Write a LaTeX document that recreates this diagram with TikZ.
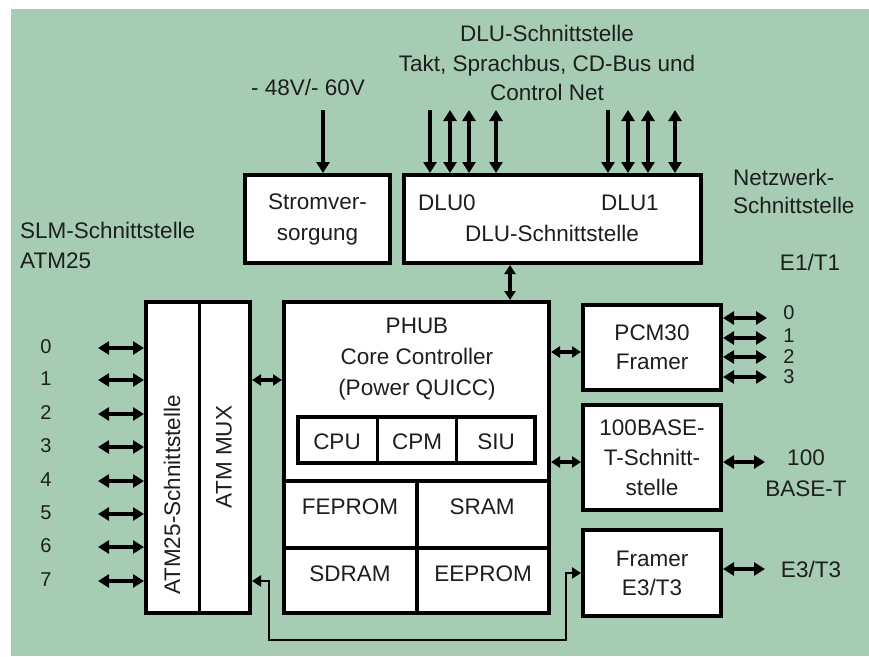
\documentclass[tikz,border=0pt]{standalone}
\usepackage{fontspec}
\setmainfont{Liberation Sans}
\usetikzlibrary{arrows.meta}
\definecolor{bg}{HTML}{A6CDB4}
\definecolor{txt}{HTML}{1E1E1E}
\newcommand\dfont{\fontsize{22.5}{30}\selectfont}
\newcommand\nfont{\fontsize{20}{24}\selectfont}
\newcommand\sfont{\fontsize{20}{20}\selectfont}
\begin{document}
\begin{tikzpicture}[x=1pt,y=-1pt,
  box/.style={draw=black,line width=4pt,fill=white,inner sep=0pt,align=center,text=txt,font=\dfont},
  lbl/.style={inner sep=0pt,align=center,text=txt,font=\dfont},
  num/.style={inner sep=0pt,text=txt,font=\nfont},
  snum/.style={inner sep=0pt,text=txt,font=\sfont},
  tip/.tip={Triangle[length=11pt,width=13pt]},
  stip/.tip={Triangle[length=9pt,width=11pt]},
  arr/.style={line width=3.2pt,-tip},
  barr/.style={line width=3.2pt,tip-tip},
  sbarr/.style={line width=3.2pt,stip-stip},
  conn/.style={line width=2.5pt,stip-stip},
  divi/.style={line width=3pt}]
\useasboundingbox (0,0) rectangle (869,656);
\fill[white] (0,0) rectangle (869,656);
\fill[bg] (11,9) rectangle (869,656);

% top labels
\node[lbl] (volt) at (308,87) {- 48V/- 60V};
\node[lbl,font=\fontsize{22.5}{29.5}\selectfont] (dlutop) at (547,63) {DLU-Schnittstelle\\Takt, Sprachbus, CD-Bus und\\Control Net};
\node[lbl,align=left,anchor=west,font=\fontsize{22.5}{28}\selectfont] (netz) at (733,191) {Netzwerk-\\Schnittstelle};
\node[lbl] (e1t1) at (810,262) {E1/T1};
\node[lbl,align=left,anchor=west] (slm) at (20,245) {SLM-Schnittstelle\\ATM25};

% boxes
\node[box,minimum width=145pt,minimum height=88pt,font=\fontsize{22.5}{31}\selectfont] (strom) at (317.5,219) {Stromver-\\sorgung};
\node[box,minimum width=297pt,minimum height=88pt] (dlu) at (552.5,219) {};
\node[lbl] (dlu0) at (447,203) {DLU0};
\node[lbl] (dlu1) at (630,203) {DLU1};
\node[lbl] (dlus) at (552,233) {DLU-Schnittstelle};

\node[box,minimum width=104pt,minimum height=311pt] (atm) at (198,457.5) {};
\draw[divi] (199,302) -- (199,613);
\node[lbl,rotate=90] (atm25) at (172,495) {ATM25-Schnittstelle};
\node[lbl,rotate=90] (atmmux) at (224,457) {ATM MUX};

\node[box,minimum width=265pt,minimum height=311pt] (phub) at (416.5,457.5) {};
\node[lbl,font=\fontsize{22.5}{31}\selectfont] (phubt) at (417,359) {PHUB\\Core Controller\\(Power QUICC)};
\node[box,minimum width=237pt,minimum height=46pt] (cpubox) at (416.5,440) {};
\draw[divi] (377,417) -- (377,463);
\draw[divi] (456,417) -- (456,463);
\node[lbl] (cpu) at (337,442) {CPU};
\node[lbl] (cpm) at (417,442) {CPM};
\node[lbl] (siu) at (496,442) {SIU};
\draw[line width=4pt] (284,481) -- (549,481);
\draw[line width=4pt] (284,548) -- (549,548);
\draw[line width=4pt] (417,481) -- (417,613);
\node[lbl] (feprom) at (350,507) {FEPROM};
\node[lbl] (sram) at (482,507) {SRAM};
\node[lbl] (sdram) at (350,574) {SDRAM};
\node[lbl] (eeprom) at (483,574) {EEPROM};

\node[box,minimum width=138pt,minimum height=85pt,font=\fontsize{22.5}{29}\selectfont] (pcm) at (652,347.5) {PCM30\\Framer};
\node[box,minimum width=138pt,minimum height=105pt] (base) at (652,457.5) {100BASE-\\T-Schnitt-\\stelle};
\node[box,minimum width=138pt,minimum height=86pt,font=\fontsize{22.5}{29}\selectfont] (fr3) at (652,573) {Framer\\E3/T3};

% right labels
\node[lbl,font=\fontsize{22.5}{31}\selectfont] (b100) at (806,473) {100\\BASE-T};
\node[lbl] (e3t3) at (811,569) {E3/T3};
\node[snum] (q0) at (789,313) {0};
\node[snum] (q1) at (789,336) {1};
\node[snum] (q2) at (789,357) {2};
\node[snum] (q3) at (789,377) {3};

% power and DLU arrows
\coordinate (pw) at (323,110);
\draw[arr] (pw) -- (pw |- strom.north);
\coordinate (d0) at (430,110);
\coordinate (d1) at (450,110);
\coordinate (d2) at (469,110);
\coordinate (d3) at (496,110);
\coordinate (d4) at (608,110);
\coordinate (d5) at (628,110);
\coordinate (d6) at (648,110);
\coordinate (d7) at (675,110);
\draw[arr] (d0) -- (d0 |- dlu.north);
\draw[arr] (d4) -- (d4 |- dlu.north);
\foreach \c in {d1,d2,d3,d5,d6,d7} \draw[barr] (\c) -- (\c |- dlu.north);
\coordinate (dp) at (510,0);
\draw[sbarr] (dp |- dlu.south) -- (dp |- phub.north);

% left arrows and numbers
\foreach \i/\yy in {0/348,1/380,2/414,3/447,4/481,5/514,6/547,7/581}{
  \coordinate (l\i) at (98,\yy);
  \node[num] (n\i) at (46,\yy-1) {\i};
  \draw[barr] (l\i) -- (l\i -| atm.west);
}
\draw[sbarr] (atm.east |- l1) -- (phub.west |- l1);

% PHUB to right boxes
\coordinate (rp) at (0,352);
\coordinate (rb) at (0,462);
\draw[sbarr] (phub.east |- rp) -- (pcm.west |- rp);
\draw[sbarr] (phub.east |- rb) -- (base.west |- rb);

% right side arrows
\foreach \i/\yy in {0/318,1/338,2/357,3/377}{
  \coordinate (p\i) at (767,\yy);
  \draw[barr] (p\i -| pcm.east) -- (p\i);
}
\coordinate (bt) at (765,462);
\draw[barr] (bt -| base.east) -- (bt);
\coordinate (et) at (765,569);
\draw[barr] (et -| fr3.east) -- (et);

% bottom connector
\coordinate (c1) at (269,640);
\coordinate (c2) at (566,640);
\draw[conn] (atm.east |- l7) -| (c1) -- (c2) |- (fr3.west);
\end{tikzpicture}
\end{document}
